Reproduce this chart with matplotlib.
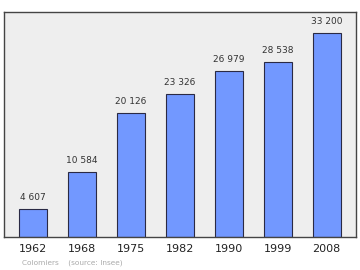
import matplotlib
matplotlib.use("Agg")
import matplotlib.pyplot as plt

years = ["1962", "1968", "1975", "1982", "1990", "1999", "2008"]
population = [4607, 10584, 20126, 23326, 26979, 28538, 33200]
labels = ["4 607", "10 584", "20 126", "23 326", "26 979", "28 538", "33 200"]

fig = plt.figure(figsize=(3.6, 2.7), dpi=100)
ax = fig.add_axes([4 / 360, 1 - 237 / 270, 352 / 360, 225 / 270])
ax.set_facecolor("#eeeeee")

x = range(len(years))
ax.bar(x, population, width=0.57, color="#7298ff", edgecolor="#2a2a44", linewidth=0.8)

for i, (v, lab) in enumerate(zip(population, labels)):
    ax.annotate(lab, (i, v), xytext=(0, 5), textcoords="offset points",
                ha="center", va="bottom", fontsize=6.5, color="#333333")

ax.set_xlim(-0.6, 6.6)
ax.set_ylim(0, 36600)
ax.set_yticks([])
ax.set_xticks(list(x))
ax.set_xticklabels(years, fontsize=8, color="#222222")
ax.tick_params(axis="x", length=0, pad=5)
for s in ax.spines.values():
    s.set_color("#444444")
    s.set_linewidth(1.0)

fig.text(22 / 360, 1 - 263 / 270, "Colomiers    (source: Insee)", fontsize=5.3,
         color="#aaaaaa", va="center", ha="left")

fig.savefig("out.png", dpi=100)
